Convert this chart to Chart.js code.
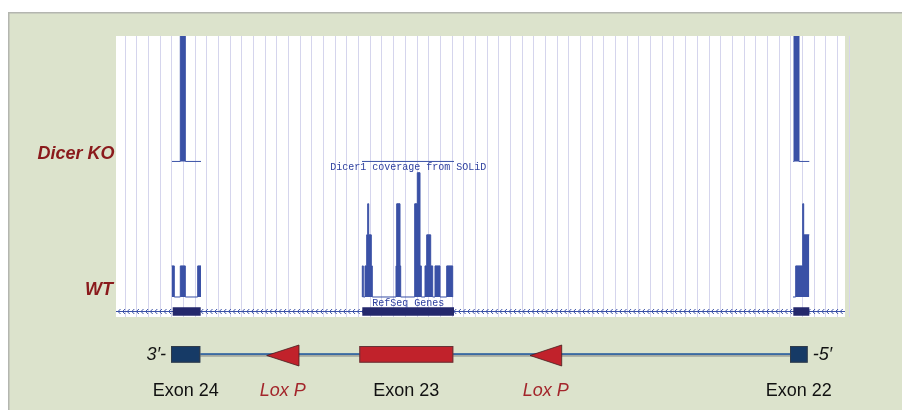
<!DOCTYPE html>
<html><head><meta charset="utf-8">
<script src="https://cdn.jsdelivr.net/npm/chart.js@4/dist/chart.umd.min.js"></script>
<style>html,body{margin:0;padding:0;background:#fff;overflow:hidden}</style>
</head><body>
<canvas id="c" width="902" height="410"></canvas>
<script>
// ---------- DATA (positions in window units 0..729, coverage in read-depth levels) ----------
// Dicer KO coverage track (step breakpoints; null = gap between exons)
const koPos = [56, 64.3, 69.3, 85, null, 246, 338, null, 677.3, 678, 683, 693.3];
const koCov = [0, 10, 0, 0, null, 0, 0, null, 0, 10, 0, 0];
// WT coverage track
const wtPos = [55.7, 58.3, 64.3, 69.3, 81.7, 85, null,
  246, 246.3, 247.3, 249, 250.7, 251.7, 252.7, 255.3, 256.3, 280, 280.7, 284, 284.7,
  298.7, 301.3, 304, 305.3, 309, 310.7, 314.7, 316.7, 319, 324, 330.7, 336.7, 337, null,
  677, 679.7, 686.7, 687.7, 693.3];
const wtCov = [1, 0, 1, 0, 1, 1, null,
  0, 1, 0, 1, 2, 3, 2, 1, 0, 1, 3, 1, 0,
  3, 4, 1, 0, 1, 2, 1, 0, 1, 0, 1, 0, 0, null,
  0, 1, 3, 2, 2];
// RefSeq gene exons (browser track)
const refseqStart = [56.7, 246.3, 677.3];
const refseqEnd   = [84.7, 338, 693.3];
// Schematic below the browser
const exonNames  = ['Exon 24', 'Exon 23', 'Exon 22'];
const exonStart  = [55, 243.3, 674];
const exonEnd    = [84.3, 337.3, 691.7];
const exonColors = ['#163a66', '#c1222b', '#163a66'];
const loxTip  = [150.7, 414];
const loxBase = [183, 445.7];
const loxLabel = 'Lox P';
const trackLabels = ['Dicer KO', 'WT'];
const gridStart = 9, gridStep = 11.68, gridCount = 63;

// ---------- helpers ----------
// each breakpoint starts a step: its value holds until the next breakpoint
function toPoints(pos, cov) {
  const pts = [];
  pos.forEach((p, i) => {
    if (p === null) { pts.push({x: (pos[i-1] + pos[i+1]) / 2, y: null}); return; }
    pts.push({x: p, y: cov[i]});
  });
  return pts;
}
const gridTicks = [];
for (let i = 0; i < gridCount; i++) gridTicks.push(gridStart + i * gridStep);
const exonPts = [];
refseqStart.forEach((s, i) => {
  if (i) exonPts.push({x: (refseqEnd[i-1] + s) / 2, y: null});
  exonPts.push({x: s, y: 0}, {x: refseqEnd[i], y: 0});
});

const BLUE = '#3a51a6';

const bgPlugin = {
  id: 'bg',
  beforeDraw(chart) {
    const ctx = chart.ctx, a = chart.chartArea;
    ctx.save();
    ctx.fillStyle = '#ffffff'; ctx.fillRect(0, 0, 902, 410);
    ctx.fillStyle = '#dce3cc'; ctx.fillRect(9, 12, 893, 398);
    ctx.fillStyle = '#b4b6b0'; ctx.fillRect(8, 12, 894, 1.5); ctx.fillRect(8, 12, 1.5, 398);
    ctx.fillStyle = '#ffffff'; ctx.fillRect(a.left, a.top, a.right - a.left, a.bottom - a.top);
    ctx.restore();
  },
  afterDatasetDraw(chart, args) {
    if (args.index !== 3) return;
    // strand chevrons on the intron line
    const ctx = chart.ctx, a = chart.chartArea;
    const y = chart.scales.yGene.getPixelForValue(0);
    ctx.save();
    ctx.strokeStyle = BLUE; ctx.lineWidth = 1;
    ctx.beginPath();
    for (let x = a.left + 2; x < a.right - 3; x += 4.6) {
      ctx.moveTo(x + 2.5, y - 2.5); ctx.lineTo(x, y); ctx.lineTo(x + 2.5, y + 2.5);
    }
    ctx.stroke();
    ctx.restore();
  },
  afterDraw(chart) {
    const ctx = chart.ctx, xs = chart.scales.x;
    ctx.save();
    // track titles
    const cx = xs.getPixelForValue((refseqStart[1] + refseqEnd[1]) / 2);
    ctx.fillStyle = '#2d3f9e';
    ctx.font = '10px "Liberation Mono", monospace';
    ctx.textAlign = 'center'; ctx.textBaseline = 'middle';
    ctx.fillText('Dicer1 coverage from SOLiD', cx, chart.scales.yKO.getPixelForValue(0) + 6);
    ctx.fillText('RefSeq Genes', cx, chart.scales.yWT.getPixelForValue(0) + 6);
    // left labels
    ctx.fillStyle = '#8a1a1c';
    ctx.font = 'italic bold 18px "Liberation Sans", Arial, sans-serif';
    ctx.textAlign = 'right';
    ctx.fillText(trackLabels[0], 114.5, 154);
    ctx.fillText(trackLabels[1], 113, 290);

    // schematic
    const x0 = xs.getPixelForValue(exonEnd[0]), x1 = xs.getPixelForValue(exonStart[2]);
    ctx.fillStyle = '#a6aaa0'; ctx.fillRect(x0, 354.8, x1 - x0, 2);
    ctx.fillStyle = '#2b5f9f'; ctx.fillRect(x0, 353.2, x1 - x0, 1.7);
    ctx.lineWidth = 1;
    exonNames.forEach((n, i) => {
      const s = xs.getPixelForValue(exonStart[i]), e = xs.getPixelForValue(exonEnd[i]);
      ctx.fillStyle = exonColors[i];
      ctx.fillRect(s, 346, e - s, 16.7);
      ctx.strokeStyle = 'rgba(60,60,60,0.7)';
      ctx.strokeRect(s + 0.5, 346.5, e - s - 1, 15.7);
    });
    loxTip.forEach((t, i) => {
      const tp = xs.getPixelForValue(t), bp = xs.getPixelForValue(loxBase[i]);
      ctx.beginPath();
      ctx.moveTo(tp, 355.5); ctx.lineTo(bp, 345); ctx.lineTo(bp, 366); ctx.closePath();
      ctx.fillStyle = '#c1222b'; ctx.fill();
      ctx.strokeStyle = 'rgba(70,30,30,0.8)'; ctx.stroke();
    });
    ctx.textBaseline = 'middle';
    ctx.font = '18px "Liberation Sans", Arial, sans-serif';
    ctx.fillStyle = '#111';
    ctx.textAlign = 'center';
    exonNames.forEach((n, i) => {
      ctx.fillText(n, xs.getPixelForValue((exonStart[i] + exonEnd[i]) / 2), 391);
    });
    ctx.font = 'italic 18px "Liberation Sans", Arial, sans-serif';
    ctx.fillStyle = '#a3262b';
    loxTip.forEach((t, i) => {
      ctx.fillText(loxLabel, xs.getPixelForValue((t + loxBase[i]) / 2), 391);
    });
    ctx.fillStyle = '#111';
    ctx.textAlign = 'right';
    ctx.fillText('3\u2032-', xs.getPixelForValue(exonStart[0]) - 5, 355);
    ctx.textAlign = 'left';
    ctx.fillText('-5\u2032', xs.getPixelForValue(exonEnd[2]) + 5, 355);
    ctx.restore();
  }
};

const covStyle = {
  stepped: 'before', fill: 'origin', borderColor: BLUE, backgroundColor: BLUE,
  borderWidth: 1, pointRadius: 0, spanGaps: false
};

new Chart(document.getElementById('c'), {
  type: 'line',
  data: {
    datasets: [
      Object.assign({label: 'Dicer KO', data: toPoints(koPos, koCov), yAxisID: 'yKO', order: 1}, covStyle),
      Object.assign({label: 'WT', data: toPoints(wtPos, wtCov), yAxisID: 'yWT', order: 2}, covStyle),
      {label: 'RefSeq exons', data: exonPts, yAxisID: 'yGene', borderColor: '#24286c',
       borderWidth: 8.5, borderCapStyle: 'butt', pointRadius: 0, spanGaps: false, fill: false, order: 0},
      {label: 'RefSeq intron', data: [{x: 0, y: 0}, {x: 729, y: 0}], yAxisID: 'yGene',
       borderColor: BLUE, borderWidth: 1, pointRadius: 0, fill: false, order: 3}
    ]
  },
  options: {
    responsive: false, animation: false, devicePixelRatio: 1,
    layout: {padding: {left: 116, top: 36, right: 57, bottom: 93}},
    plugins: {legend: {display: false}, tooltip: {enabled: false}},
    scales: {
      x: {type: 'linear', min: 0, max: 729, display: true,
          ticks: {display: false}, border: {display: false},
          grid: {color: '#d5d5ed', lineWidth: 1, drawTicks: false},
          afterBuildTicks: s => { s.ticks = gridTicks.map(v => ({value: v})); }},
      yKO: {type: 'linear', display: false, min: -4.96, max: 4},
      yWT: {type: 'linear', display: false, min: -0.644, max: 8.40},
      yGene: {type: 'linear', display: false, min: -5.5, max: 275.5}
    }
  },
  plugins: [bgPlugin]
});
</script>
</body></html>
